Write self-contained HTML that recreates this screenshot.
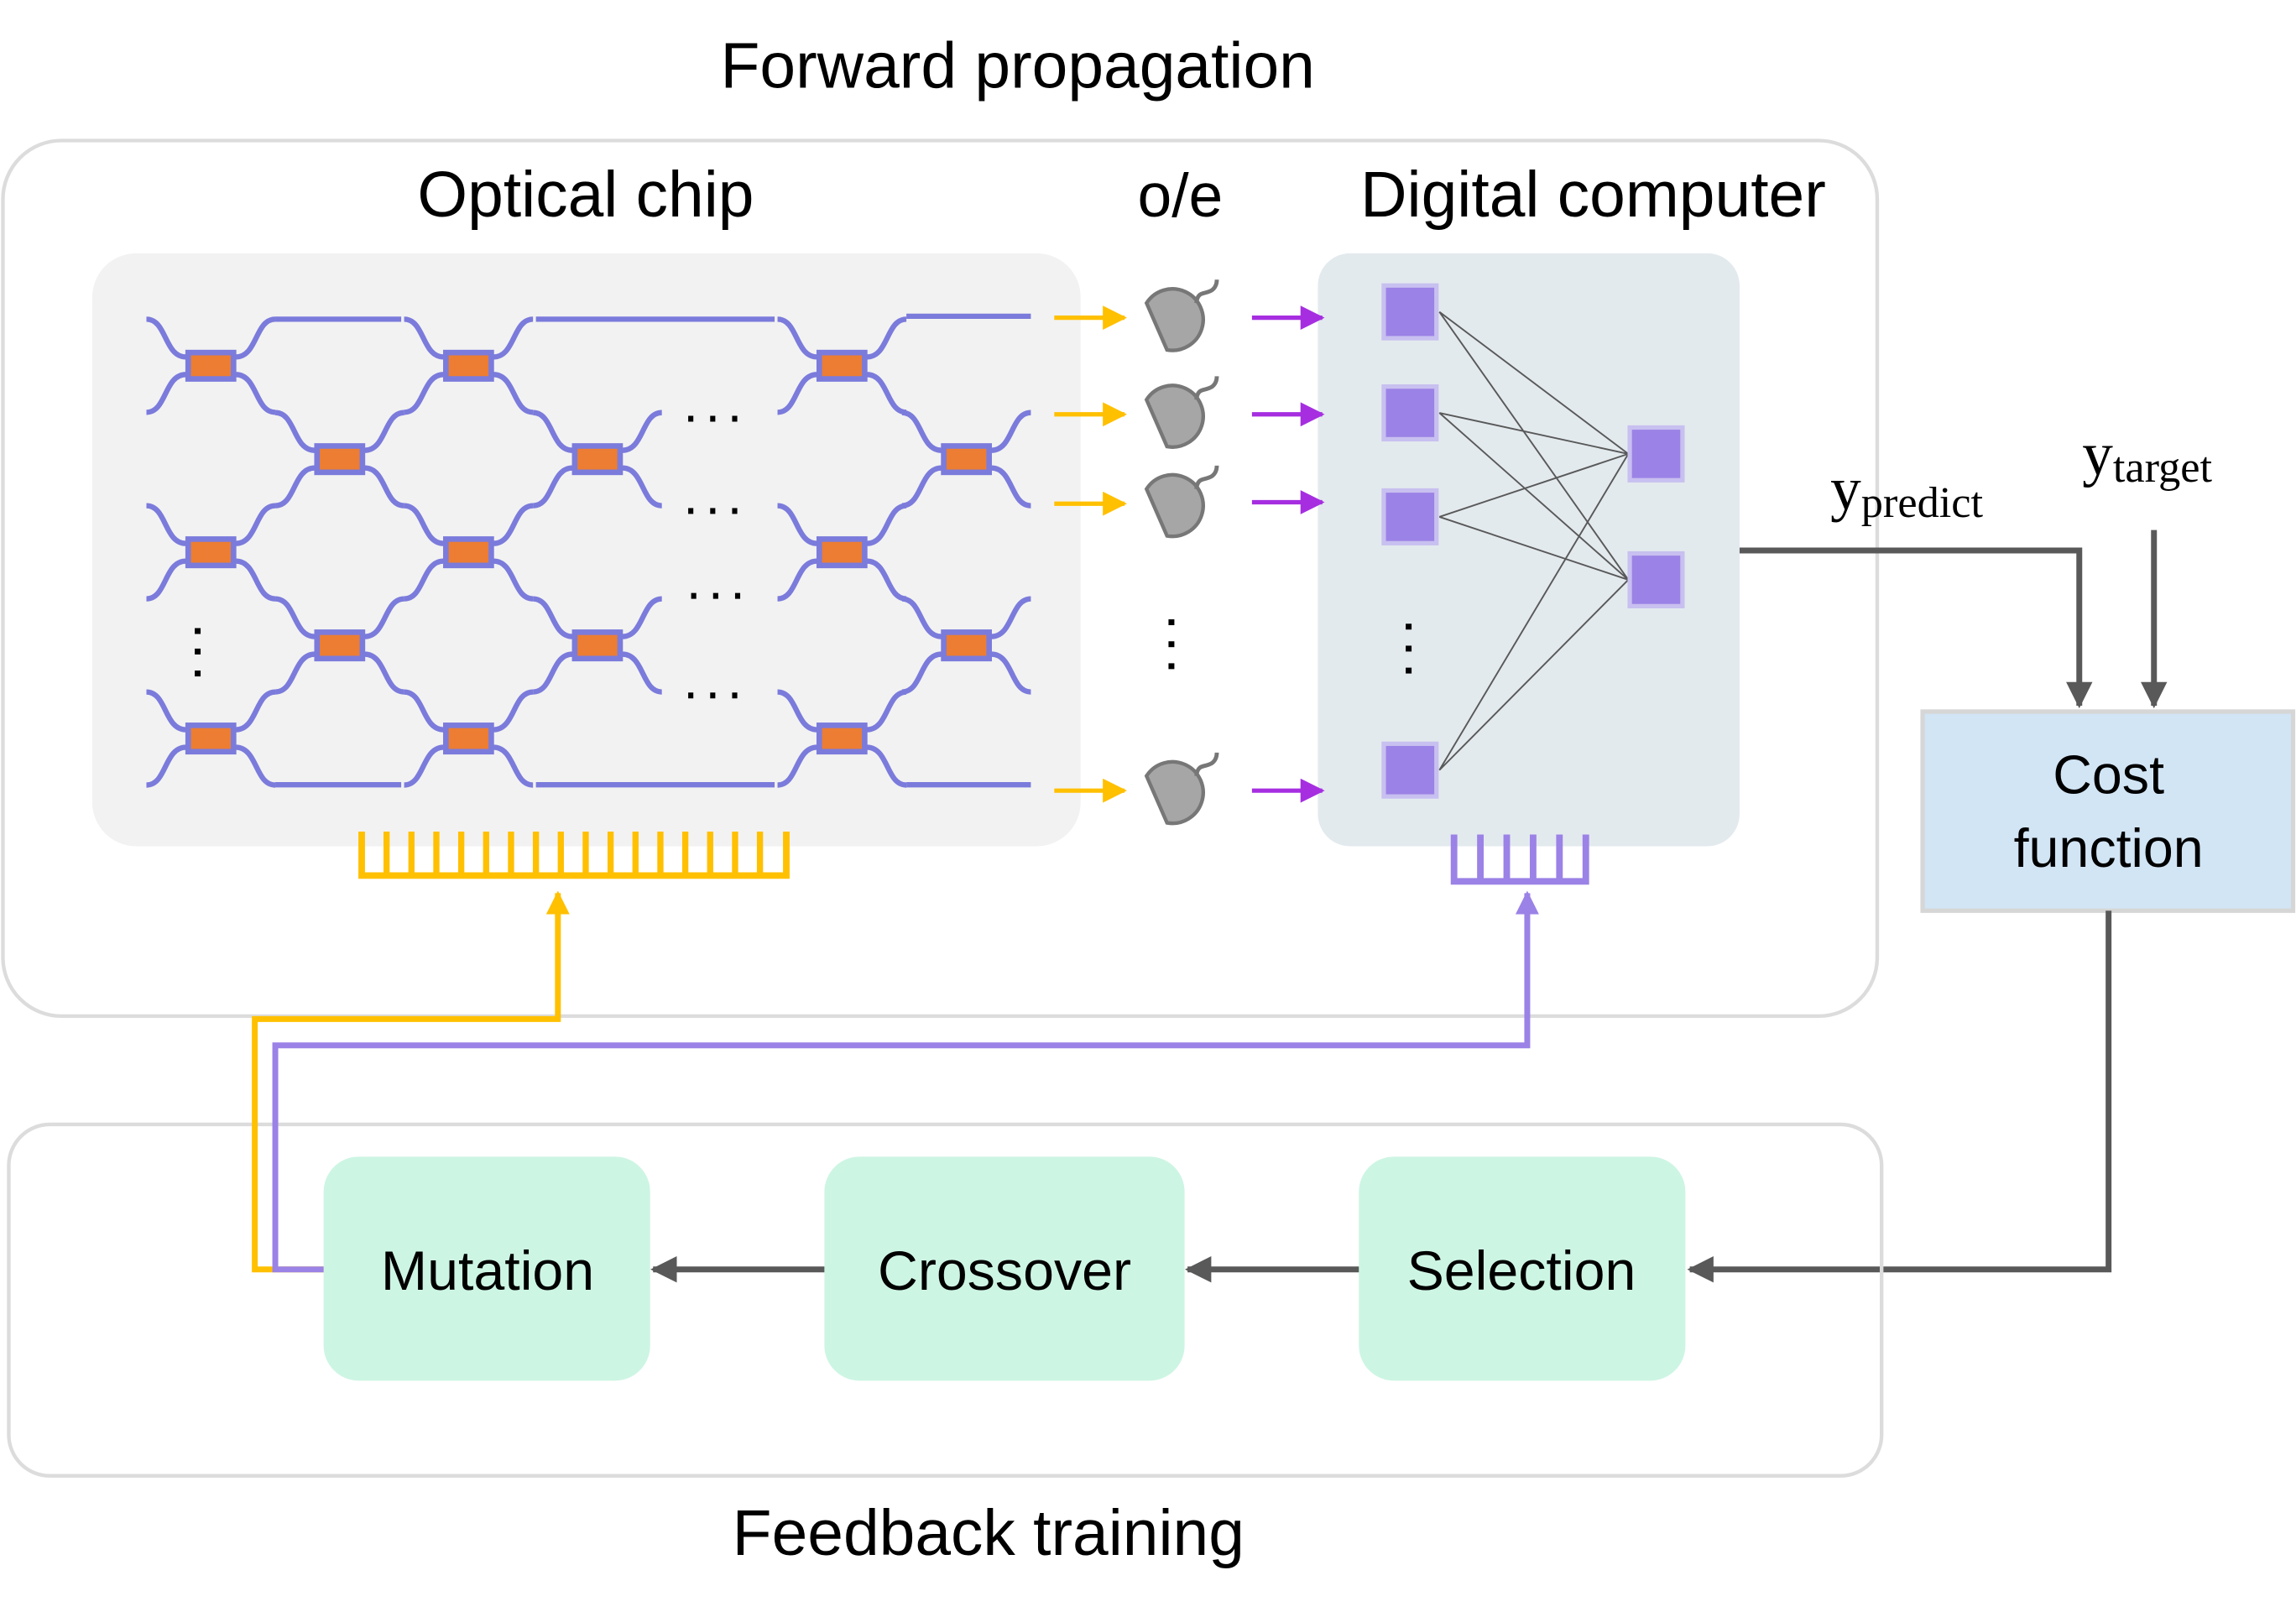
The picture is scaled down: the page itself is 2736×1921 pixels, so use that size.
<!DOCTYPE html>
<html><head><meta charset="utf-8"><style>
html,body{margin:0;padding:0;background:#fff}
svg{display:block}
text{font-family:"Liberation Sans",sans-serif}
text.s{font-family:"Liberation Serif",serif}
</style></head><body>
<svg width="2736" height="1921" viewBox="0 0 1568 1101" preserveAspectRatio="none" xmlns="http://www.w3.org/2000/svg">
<defs>
<g id="m" fill="none" stroke="#7b7bdc" stroke-width="3.6">
<path d="M-44,-31.8 C-30,-31.8 -32,-6 -17,-6"/>
<path d="M-44,31.8 C-30,31.8 -32,6 -17,6"/>
<path d="M44,-31.8 C30,-31.8 32,-6 17,-6"/>
<path d="M44,31.8 C30,31.8 32,6 17,6"/>
<rect x="-15.5" y="-9" width="31" height="18" fill="#ec7d32" stroke="#7b7bdc" stroke-width="3.8"/>
</g>
<g id="d">
<path d="M-19,-10 L-5,22 A21,21 0 1 0 -19,-10 Z" fill="#a6a6a6" stroke="#777" stroke-width="2.5"/>
<path d="M15,-10 C16,-18 20,-16 24,-18 C27,-19 29,-22 29,-26" fill="none" stroke="#777" stroke-width="2.8"/>
</g>
<marker id="ay" viewBox="0 0 10 10" refX="9" refY="5" markerWidth="5.5" markerHeight="5.5" orient="auto" markerUnits="strokeWidth"><path d="M0,0 L10,5 L0,10Z" fill="#ffc000"/></marker>
<marker id="ap" viewBox="0 0 10 10" refX="9" refY="5" markerWidth="5.5" markerHeight="5.5" orient="auto" markerUnits="strokeWidth"><path d="M0,0 L10,5 L0,10Z" fill="#a62ee0"/></marker>
<marker id="ag" viewBox="0 0 10 10" refX="9" refY="5" markerWidth="4.5" markerHeight="4.5" orient="auto" markerUnits="strokeWidth"><path d="M0,0 L10,5 L0,10Z" fill="#595959"/></marker>
<marker id="ay2" viewBox="0 0 10 10" refX="9" refY="5" markerWidth="4" markerHeight="4" orient="auto" markerUnits="strokeWidth"><path d="M0,0 L10,5 L0,10Z" fill="#ffc000"/></marker>
<marker id="al" viewBox="0 0 10 10" refX="9" refY="5" markerWidth="4" markerHeight="4" orient="auto" markerUnits="strokeWidth"><path d="M0,0 L10,5 L0,10Z" fill="#9b82e6"/></marker>
</defs>

<text x="695" y="60" font-size="44" text-anchor="middle" fill="#000">Forward propagation</text>
<rect x="2" y="96" width="1280" height="598" rx="40" fill="none" stroke="#dcdcdc" stroke-width="2.5"/>
<text x="400" y="148" font-size="44" text-anchor="middle">Optical chip</text>
<text x="806" y="148" font-size="42" text-anchor="middle">o/e</text>
<text x="1088" y="148" font-size="44" text-anchor="middle">Digital computer</text>

<rect x="63" y="173" width="675" height="405" rx="30" fill="#f2f2f2"/>
<rect x="900" y="173" width="288" height="405" rx="22" fill="#e3eaee"/>

<g>
<use href="#m" x="144" y="249.8"/><use href="#m" x="144" y="377.2"/><use href="#m" x="144" y="504.4"/>
<use href="#m" x="232" y="313.6"/><use href="#m" x="232" y="440.8"/>
<use href="#m" x="320" y="249.8"/><use href="#m" x="320" y="377.2"/><use href="#m" x="320" y="504.4"/>
<use href="#m" x="408" y="313.6"/><use href="#m" x="408" y="440.8"/>
<use href="#m" x="575" y="249.8"/><use href="#m" x="575" y="377.2"/><use href="#m" x="575" y="504.4"/>
<use href="#m" x="660" y="313.6"/><use href="#m" x="660" y="440.8"/>
</g>
<g stroke="#7b7bdc" stroke-width="3.6" fill="none">
<path d="M188,218 H274 M188,536 H274 M366,218 H529 M366,536 H529 M619,216 H704 M619,536 H704"/>
</g>
<g fill="#000">
<rect x="470" y="284" width="3.5" height="4"/><rect x="485" y="284" width="3.5" height="4"/><rect x="500" y="284" width="3.5" height="4"/>
<rect x="470" y="347" width="3.5" height="4"/><rect x="485" y="347" width="3.5" height="4"/><rect x="500" y="347" width="3.5" height="4"/>
<rect x="472" y="405" width="3.5" height="4"/><rect x="487" y="405" width="3.5" height="4"/><rect x="502" y="405" width="3.5" height="4"/>
<rect x="470" y="473" width="3.5" height="4"/><rect x="485" y="473" width="3.5" height="4"/><rect x="500" y="473" width="3.5" height="4"/>
<rect x="133" y="429" width="4" height="4"/><rect x="133" y="443" width="4" height="4"/><rect x="133" y="458" width="4" height="4"/>
<rect x="798" y="423" width="4" height="4"/><rect x="798" y="438" width="4" height="4"/><rect x="798" y="453" width="4" height="4"/>
<rect x="960" y="426" width="4" height="4"/><rect x="960" y="441" width="4" height="4"/><rect x="960" y="456" width="4" height="4"/>
</g>

<path d="M247,568 V598 H537 V568" fill="none" stroke="#ffc000" stroke-width="4.5"/>
<g stroke="#ffc000" stroke-width="4.2">
<path d="M264,568V598 M281,568V598 M298,568V598 M315,568V598 M332,568V598 M349,568V598 M366,568V598 M383,568V598 M400,568V598 M417,568V598 M434,568V598 M451,568V598 M468,568V598 M485,568V598 M502,568V598 M519,568V598"/>
</g>
<path d="M993,570 V602 H1083 V570" fill="none" stroke="#9b82e6" stroke-width="4.5"/>
<path d="M1011,570V602 M1029,570V602 M1047,570V602 M1065,570V602" stroke="#9b82e6" stroke-width="4.5"/>

<g stroke="#ffc000" stroke-width="3" marker-end="url(#ay)">
<line x1="720" y1="217" x2="768" y2="217"/><line x1="720" y1="283" x2="768" y2="283"/>
<line x1="720" y1="344" x2="768" y2="344"/><line x1="720" y1="540" x2="768" y2="540"/>
</g>
<use href="#d" x="802" y="217"/><use href="#d" x="802" y="283"/><use href="#d" x="802" y="344"/><use href="#d" x="802" y="540"/>
<g stroke="#a62ee0" stroke-width="3" marker-end="url(#ap)">
<line x1="855" y1="217" x2="903" y2="217"/><line x1="855" y1="283" x2="903" y2="283"/>
<line x1="855" y1="343" x2="903" y2="343"/><line x1="855" y1="540" x2="903" y2="540"/>
</g>

<g stroke="#595959" stroke-width="1.1">
<path d="M983,213 L1112,310 M983,213 L1112,396 M983,282 L1112,310 M983,282 L1112,396 M983,353 L1112,310 M983,353 L1112,396 M983,526 L1112,310 M983,526 L1112,396"/>
</g>
<g fill="#9b82e6" stroke="#c8c0f0" stroke-width="3">
<rect x="945" y="195" width="36" height="36"/><rect x="945" y="264" width="36" height="36"/>
<rect x="945" y="335" width="36" height="36"/><rect x="945" y="508" width="36" height="36"/>
<rect x="1113" y="292" width="36" height="36"/><rect x="1113" y="378" width="36" height="36"/>
</g>

<path d="M1188,376 H1420 V482" fill="none" stroke="#595959" stroke-width="4" marker-end="url(#ag)"/>
<path d="M1471,362 V482" fill="none" stroke="#595959" stroke-width="4" marker-end="url(#ag)"/>
<text class="s" x="1250" y="348" font-size="42">y<tspan font-size="30" dy="5">predict</tspan></text>
<text class="s" x="1422" y="324" font-size="42">y<tspan font-size="30" dy="5">target</tspan></text>
<rect x="1313" y="486" width="253" height="136" fill="#d2e5f5" stroke="#d6d6d6" stroke-width="3"/>
<text x="1440" y="542" font-size="37" text-anchor="middle">Cost</text>
<text x="1440" y="592" font-size="37" text-anchor="middle">function</text>
<path d="M1440,622 V867 H1154" fill="none" stroke="#595959" stroke-width="4" marker-end="url(#ag)"/>

<rect x="6" y="768" width="1279" height="240" rx="28" fill="none" stroke="#dcdcdc" stroke-width="2.5"/>
<rect x="221" y="790" width="223" height="153" rx="24" fill="#cdf5e4"/>
<rect x="563" y="790" width="246" height="153" rx="24" fill="#cdf5e4"/>
<rect x="928" y="790" width="223" height="153" rx="24" fill="#cdf5e4"/>
<text x="333" y="881" font-size="38" text-anchor="middle">Mutation</text>
<text x="686" y="881" font-size="38" text-anchor="middle">Crossover</text>
<text x="1039" y="881" font-size="38" text-anchor="middle">Selection</text>
<path d="M928,867 H811" stroke="#595959" stroke-width="4" marker-end="url(#ag)"/>
<path d="M563,867 H446" stroke="#595959" stroke-width="4" marker-end="url(#ag)"/>
<path d="M221,867 H174 V696 H381 V610" fill="none" stroke="#ffc000" stroke-width="4" marker-end="url(#ay2)"/>
<path d="M221,867 H188 V714 H1043 V610" fill="none" stroke="#9b82e6" stroke-width="4" marker-end="url(#al)"/>
<text x="675" y="1062" font-size="44" text-anchor="middle">Feedback training</text>
</svg>
</body></html>
